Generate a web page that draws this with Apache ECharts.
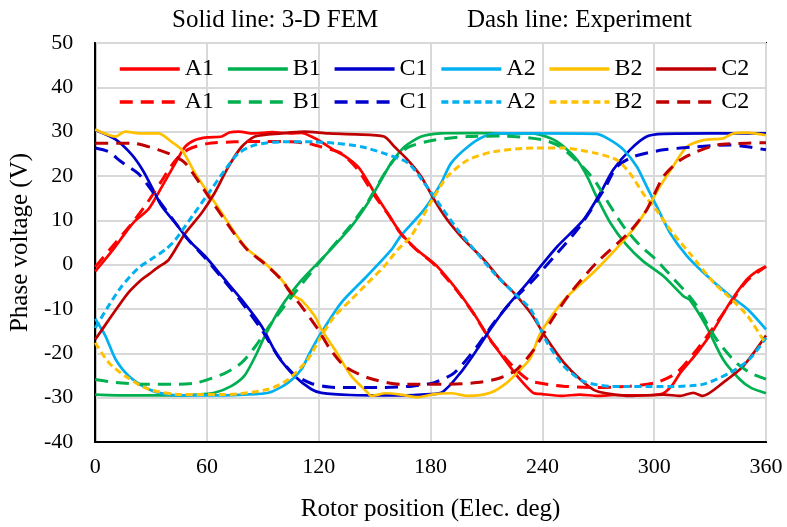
<!DOCTYPE html>
<html>
<head>
<meta charset="utf-8">
<script src="https://cdn.jsdelivr.net/npm/echarts@6/dist/echarts.min.js"></script>
<style>
html,body{margin:0;padding:0;background:#fff;}
#chart{width:787px;height:527px;}
</style>
</head>
<body>
<div id="chart"></div>
<script>
// ---- Data (x = rotor position in elec. deg, y = phase voltage in V) ----
const xTicks = [0, 60, 120, 180, 240, 300, 360];
const yTicks = [-40, -30, -20, -10, 0, 10, 20, 30, 40, 50];
const phaseNames = ['A1', 'B1', 'C1', 'A2', 'B2', 'C2'];

// Solid line: 3-D FEM
const A1_fem = [[0,-1.5],[5,1],[10.7,4],[15,6.5],[21,9.7],[28.7,12.6],[35.8,17.6],[43,22.9],[48.3,26.6],[53.6,28.1],[60,28.7],[67.9,28.9],[72,29.8],[77,30],[85,29.6],[95,29.9],[105,29.6],[110.7,29.7],[116,28.9],[122,27.5],[128,25.9],[134,24.5],[141,22.1],[146,19],[150,16.1],[157,11.6],[164,7.1],[172,3.6],[182,0.2],[187,-2],[194,-5.6],[203,-10.9],[212,-16.9],[221,-22.1],[228,-25.9],[235,-28.9],[240,-29.2],[250,-29.6],[260,-29.3],[270,-29.6],[280,-29.4],[290,-29.5],[300,-29.4],[305,-29],[310,-27],[314,-24.4],[323,-19.9],[332,-14.6],[340.6,-8.6],[349.6,-3.4],[355,-1.5],[360,-0.4]];
const B1_fem = [[0,-29.3],[20,-29.5],[40,-29.5],[55,-29.3],[64,-28.9],[73,-27.4],[80,-25.1],[86,-20.6],[91,-16.1],[100,-9.4],[110.7,-3.5],[123,1.9],[137.4,8.6],[146.3,13.9],[153.5,19.1],[158.8,22.9],[166,26.6],[175,28.9],[185.6,29.6],[200,29.7],[220,29.6],[233.7,29.6],[244.4,28.5],[251.5,26.6],[258.7,23.6],[264,19.9],[269,15.4],[276.5,9.4],[285,4.5],[294,0.8],[305,-2.6],[315.7,-7.1],[319,-7.9],[328,-13.9],[337,-21.4],[346,-25.9],[352,-27.8],[360,-29]];
const C1_fem = [[0,30.4],[10.7,28.3],[19.6,24.8],[25.5,21.3],[30.5,17.4],[35.8,13.1],[43,9.4],[50,5.6],[59,1.9],[68,-2.6],[78.6,-7.9],[89.3,-13.9],[98,-20.6],[107,-25.1],[116,-28.1],[121.4,-28.9],[137,-29.4],[160,-29.5],[175,-29.3],[185.6,-28.9],[196,-24.4],[205,-19.1],[212,-14.6],[221,-9.4],[232,-4.1],[239,-0.4],[248,4.1],[262,10.1],[271,16.1],[278,21.4],[287,25.9],[296,28.9],[305,29.5],[330,29.6],[360,29.6]];
const A2_fem = [[0,-12.2],[5.5,-16.1],[11,-21.4],[18,-25.1],[28.7,-28.1],[39,-29.3],[60,-29.5],[80,-29.3],[93,-28.9],[103.6,-26.6],[110.7,-23.6],[115,-20],[121.4,-15.3],[132,-8.6],[146,-2.5],[159,3.4],[164,6.5],[176.5,12.4],[185.6,18.4],[191,22.9],[200,26.6],[208.6,28.9],[217.6,29.6],[240,29.6],[269,29.5],[276.5,28.1],[283.6,25.9],[290.7,22.1],[296,17.6],[301.4,13.1],[308.6,7.1],[317.5,2],[328,-2.4],[340,-6.8],[350,-10],[360,-14.6]];
const B2_fem = [[0,30.5],[10.9,28.9],[16,30],[25,29.6],[34,29.6],[41,27.7],[46.5,25.9],[53.6,20.6],[60.8,16.1],[68,11.6],[75,7.1],[82,3.4],[91,0.4],[100,-3.4],[107,-7.1],[110.7,-8],[117.8,-11.6],[121.4,-14.6],[128.5,-19.1],[137.4,-25.1],[146.3,-28.9],[148,-29.6],[156,-29],[164,-29.3],[173,-29.9],[182,-29.2],[191,-29],[200,-29.6],[212,-28.9],[221,-26.6],[230,-22.9],[233.7,-21],[239,-15.4],[251.5,-8],[269,-1.1],[287,7.1],[296,12.4],[303,17.6],[310,22.1],[317.5,26.6],[326.4,28.1],[337,28.5],[342.4,29.6],[350,29.8],[360,29.2]];
const C2_fem = [[0,-16.9],[8.7,-11.6],[17.6,-6.4],[24.8,-3.4],[28.7,-2.2],[34,-0.5],[39.4,1.1],[48.3,7.1],[57,11.6],[64,16.1],[71.5,22.1],[78.6,26.6],[85.7,28.9],[100,29.6],[112,30],[125,29.6],[140,29.4],[155,28.9],[160.6,26.6],[167.8,23.6],[174.9,19.9],[182,14.6],[189,10.1],[198,5.6],[208.7,1.1],[217.6,-3.4],[224.8,-6.4],[233.7,-10.9],[242.6,-16.9],[251.5,-22.1],[260.4,-25.9],[269,-28.5],[287,-29.6],[305,-29.3],[314,-29.6],[321,-28.9],[326,-29.6],[337,-26.6],[347.8,-22.9],[360,-16]];

// Dash line: Experiment
const A1_exp = [[0,-0.5],[10,4.5],[20,9.5],[28,14],[35,18.5],[43,23.5],[50,26],[60,27.3],[75,27.7],[90,27.8],[105,27.7],[115,27.3],[121,26.6],[132,25.1],[141,21.4],[150,15.5],[157,11.5],[164,7],[172,3.5],[182,0],[194,-5.8],[203,-11],[212,-17],[221,-21.5],[228,-24.5],[234,-26.3],[251,-27.4],[269,-27.7],[287,-27.4],[301,-26.6],[312,-24.4],[323,-19.1],[332,-14],[341,-8.6],[350,-3.5],[360,-0.4]];
const B1_exp = [[0,-25.9],[11,-26.6],[28.7,-27],[45,-27],[55,-26.6],[70,-24.4],[78.6,-22.1],[86,-18.4],[94.7,-13.1],[107,-6.4],[121.4,1.1],[137,8.8],[146,14],[153,19],[160,23.5],[168,26.5],[182,28.1],[200,28.9],[220,29],[240.8,28.1],[250,26.5],[258,23.5],[264,21],[269,18.4],[276,13.5],[283.6,8.6],[292,4.5],[301,1.1],[310,-3],[317.5,-6.4],[323,-9.4],[333.5,-16.9],[344,-22.1],[352,-24.5],[360,-25.8]];
const C1_exp = [[0,26.3],[7,25.5],[14,23.2],[23,20.6],[29,17.5],[35,14],[42,10],[50,5.6],[59,1.5],[68,-3],[78.6,-8.5],[89,-14.5],[98,-20.5],[106,-24.5],[116,-26.8],[128.5,-27.7],[155,-27.7],[170,-27.4],[182,-26.6],[192.7,-24.4],[205,-18.4],[214,-13.1],[223,-8.5],[233.7,-4.1],[248,2.6],[260,8.6],[273,16.9],[280,22.1],[289,24.4],[305,25.9],[323,26.6],[340.6,27],[350,26.6],[360,25.9]];
const A2_exp = [[0,-14.3],[7,-9.4],[14,-5],[23,-0.8],[30,1.2],[37.6,3.4],[43,5.6],[52,10.9],[60.8,16.1],[69.7,21.4],[76.8,25.1],[85.7,27],[100,27.7],[117.8,27.7],[128.5,27.4],[142.8,26.6],[155,25.1],[168,22.9],[176.6,18.4],[185.6,13.1],[194.5,7.9],[203.4,3.4],[214,-1.9],[224.8,-6.4],[233.7,-10.1],[242.6,-17.6],[251.5,-22.9],[262,-26.3],[278,-27.5],[305,-27.5],[326,-27],[340.6,-24.4],[351,-21.4],[360,-16.5]];
const B2_exp = [[0,-17.6],[7.3,-22.1],[16,-25.1],[28.7,-28.1],[46.5,-29.3],[70,-29.3],[93,-28.1],[103.6,-25.9],[114,-21.4],[121.4,-16.1],[128.5,-11.6],[137.4,-7.9],[146.3,-4.1],[155,-0.4],[162.4,3.4],[169.5,6.4],[182,15.4],[189,19.9],[200,23.6],[214,25.5],[235.5,26.3],[251.5,26.3],[269,25.1],[280,23.6],[287,20.6],[294,16.1],[301,12.4],[310,7.1],[319,2.6],[332,-4.1],[340,-7.2],[350,-11.5],[360,-18]];
const C2_exp = [[0,27.4],[19.8,27.4],[34,25.9],[43,24.4],[48.3,22.9],[53.6,19.9],[60.8,15.4],[68,11],[75,6.8],[82,3.2],[91,0.2],[100,-3.4],[103.6,-5.6],[110.7,-9.4],[119.6,-14.6],[126,-19],[133.8,-22.9],[146.3,-25.5],[164,-27],[185.6,-27],[205,-26.6],[217.6,-25.5],[226.4,-23.6],[235.5,-19.1],[245,-12.5],[255,-6.4],[269,0.4],[287,7.5],[296,12.4],[305,19.9],[314,23.6],[323,25.5],[333.5,27],[349.6,27.4],[360,27.5]];

// ---- Styles ----
const FONT = "'Liberation Serif','Times New Roman',serif";
const colors = {A1:'#FF0000', B1:'#00B050', C1:'#0000CC', A2:'#00B0F0', B2:'#FFC000', C2:'#C00000'};
const femData = {A1:A1_fem, B1:B1_fem, C1:C1_fem, A2:A2_fem, B2:B2_fem, C2:C2_fem};
const expData = {A1:A1_exp, B1:B1_exp, C1:C1_exp, A2:A2_exp, B2:B2_exp, C2:C2_exp};
const dashPattern = {A1:[13,8], B1:[13,8], C1:[13,8], A2:[7,4], B2:[7,4], C2:[13,8]};

const series = [];
phaseNames.forEach(p => {
  series.push({
    name: p + ' FEM', type: 'line', data: femData[p], symbol: 'none', smooth: 0.25,
    lineStyle: {color: colors[p], width: 2.7, type: 'solid'}, itemStyle: {color: colors[p]}
  });
});
phaseNames.forEach(p => {
  series.push({
    name: p + ' EXP', type: 'line', data: expData[p], symbol: 'none', smooth: 0.25,
    lineStyle: {color: colors[p], width: 3, type: dashPattern[p]}, itemStyle: {color: colors[p]}
  });
});

const legendCommon = {
  orient: 'horizontal', left: 113, itemWidth: 60, itemHeight: 14, itemGap: 12,
  itemStyle: {opacity: 0},
  lineStyle: {width: 3.5},
  textStyle: {fontFamily: FONT, fontSize: 24, color: '#000'},
  formatter: function (n) { return n.split(' ')[0]; },
  selectedMode: false
};

const chart = echarts.init(document.getElementById('chart'), null, {renderer: 'canvas'});
chart.setOption({
  animation: false,
  backgroundColor: '#fff',
  grid: {left: 93, right: 21, top: 43, bottom: 85, show: true, borderColor: '#000', borderWidth: 2, backgroundColor: 'transparent'},
  graphic: [
    {type: 'text', left: 172, top: 8, style: {text: 'Solid line: 3-D FEM', font: '25px ' + FONT, fill: '#000'}},
    {type: 'text', left: 467, top: 8, style: {text: 'Dash line: Experiment', font: '25px ' + FONT, fill: '#000'}}
  ],
  legend: [
    Object.assign({}, legendCommon, {top: 52, data: phaseNames.map(p => p + ' FEM')}),
    Object.assign({}, legendCommon, {top: 85, data: phaseNames.map(p => p + ' EXP')})
  ],
  xAxis: {
    type: 'value', min: xTicks[0], max: xTicks[xTicks.length - 1], interval: 60,
    name: 'Rotor position (Elec. deg)', nameLocation: 'middle', nameGap: 55,
    nameTextStyle: {fontFamily: FONT, fontSize: 25, color: '#000'},
    axisLine: {show: true, onZero: false, lineStyle: {color: '#000', width: 2}},
    axisTick: {show: false},
    axisLabel: {fontFamily: FONT, fontSize: 22, color: '#000', margin: 14},
    splitLine: {show: true, lineStyle: {color: '#D9D9D9', width: 2}}
  },
  yAxis: {
    type: 'value', min: yTicks[0], max: yTicks[yTicks.length - 1], interval: 10,
    name: 'Phase voltage (V)', nameLocation: 'middle', nameGap: 48,
    nameTextStyle: {fontFamily: FONT, fontSize: 25, color: '#000'},
    axisLine: {show: true, onZero: false, lineStyle: {color: '#000', width: 2}},
    axisTick: {show: false},
    axisLabel: {fontFamily: FONT, fontSize: 22, color: '#000', margin: 22},
    splitLine: {show: true, lineStyle: {color: '#D9D9D9', width: 2}}
  },
  series: series
});
</script>
</body>
</html>
